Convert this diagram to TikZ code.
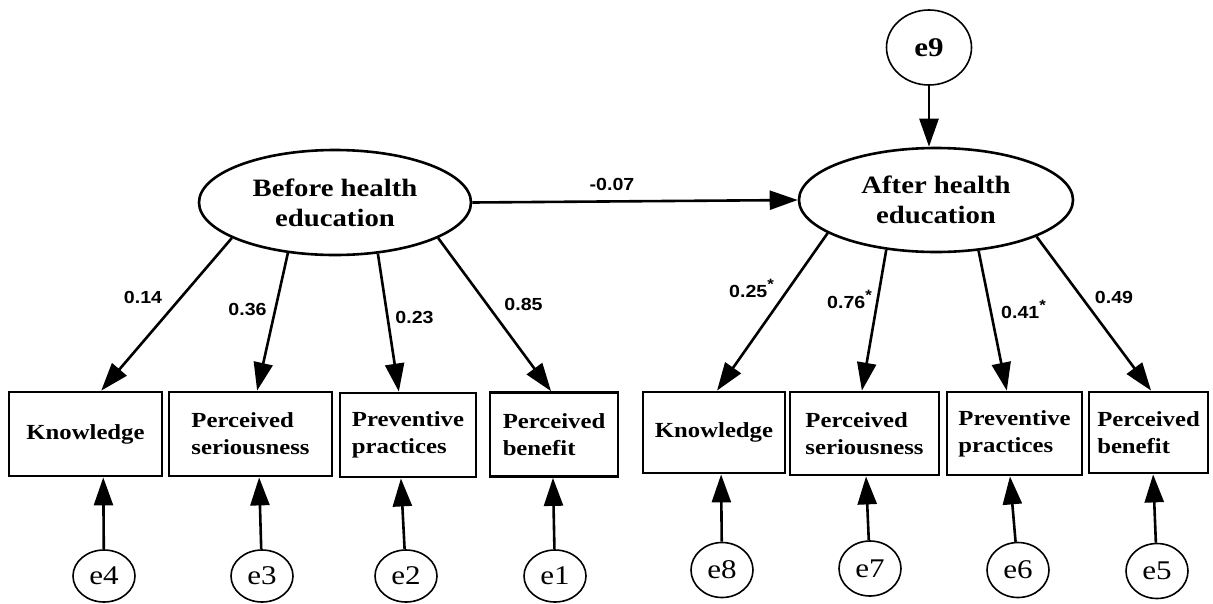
\documentclass[tikz,border=0pt]{standalone}
\usepackage{fontspec}
\setmainfont{Liberation Serif}[FakeStretch=1.15]
\newfontfamily\numfont{Liberation Sans}[FakeStretch=1.12]
\usetikzlibrary{arrows.meta,shapes.geometric,calc}
\newcommand{\sigstar}{\raisebox{0.42em}{\fontsize{15}{15}\selectfont *}}
\begin{document}
\begin{tikzpicture}[x=1pt,y=-1pt,
  lat/.style={ellipse,draw,line width=2.6pt,inner sep=0pt,font=\fontsize{25}{30}\selectfont\bfseries,align=center},
  obs/.style={rectangle,draw,line width=2.8pt,inner sep=0pt,font=\fontsize{21.5}{27}\selectfont\bfseries,align=left},
  err/.style={ellipse,draw,line width=1.6pt,inner sep=0pt,font=\fontsize{27}{30}\selectfont},
  arr/.style={line width=2.6pt,-{Triangle[length=28pt,width=19pt]}},
  coef/.style={font=\numfont\fontsize{17.5}{18}\selectfont\bfseries,anchor=base,inner sep=0pt},
]
\useasboundingbox (0,0) rectangle (1213,603);

% latent variables
\node[lat,minimum width=272pt,minimum height=105pt] (before) at (335,202.5) {Before health\\education};
\node[lat,minimum width=274pt,minimum height=104pt] (after) at (936,200) {After health\\education};
\node[err,font=\fontsize{27}{30}\selectfont\bfseries,minimum width=85pt,minimum height=75pt] (e9) at (929,47.5) {e9};

% observed variables (before)
\node[obs,minimum width=153pt,minimum height=84pt] (k1) at (85.5,434) {Knowledge};
\node[obs,minimum width=163pt,minimum height=84pt] (k2) at (250.5,434) {Perceived\\seriousness};
\node[obs,minimum width=136pt,minimum height=84pt] (k3) at (408,435) {Preventive\\practices};
\node[obs,minimum width=128pt,minimum height=84pt] (k4) at (554,434.5) {Perceived\\benefit};
% observed variables (after)
\node[obs,minimum width=142pt,minimum height=81pt] (k5) at (714,432.5) {Knowledge};
\node[obs,minimum width=149pt,minimum height=83pt] (k6) at (864.5,433.5) {Perceived\\seriousness};
\node[obs,minimum width=135pt,minimum height=83pt] (k7) at (1014.5,433.5) {Preventive\\practices};
\node[obs,minimum width=119pt,minimum height=81pt] (k8) at (1148.5,432.5) {Perceived\\benefit};

% error terms
\node[err,minimum width=62pt,minimum height=52pt] (e4) at (104,576) {e4};
\node[err,minimum width=62pt,minimum height=52pt] (e3) at (262,576) {e3};
\node[err,minimum width=62pt,minimum height=52pt] (e2) at (406,576) {e2};
\node[err,minimum width=62pt,minimum height=52pt] (e1) at (555,576) {e1};
\node[err,minimum width=62pt,minimum height=55pt] (e8) at (722,570) {e8};
\node[err,minimum width=62pt,minimum height=55pt] (e7) at (870,568.5) {e7};
\node[err,minimum width=62pt,minimum height=55pt] (e6) at (1018,570) {e6};
\node[err,minimum width=62pt,minimum height=55pt] (e5) at (1157,571) {e5};

% structural paths
\draw[arr] (e9) -- (e9 |- after.north);
\draw[arr] (before.east) -- (after.west);

% loadings (before)
\draw[arr] (before.199) -- ($(k1.north west)!0.601!(k1.north east)$);
\draw[arr] (before.227) -- ($(k2.north west)!0.540!(k2.north east)$);
\draw[arr] (before.310) -- ($(k3.north west)!0.434!(k3.north east)$);
\draw[arr] (before.341) -- ($(k4.north west)!0.477!(k4.north east)$);
% loadings (after)
\draw[arr] (after.197) -- ($(k5.north west)!0.521!(k5.north east)$);
\draw[arr] (after.225) -- ($(k6.north west)!0.483!(k6.north east)$);
\draw[arr] (after.310) -- ($(k7.north west)!0.444!(k7.north east)$);
\draw[arr] (after.340) -- ($(k8.north west)!0.521!(k8.north east)$);

% error paths
\draw[arr] (e4) -- ($(k1.south west)!0.614!(k1.south east)$);
\draw[arr] (e3) -- ($(k2.south west)!0.552!(k2.south east)$);
\draw[arr] (e2) -- ($(k3.south west)!0.449!(k3.south east)$);
\draw[arr] (e1) -- ($(k4.south west)!0.492!(k4.south east)$);
\draw[arr] (e8) -- ($(k5.south west)!0.549!(k5.south east)$);
\draw[arr] (e7) -- ($(k6.south west)!0.510!(k6.south east)$);
\draw[arr] (e6) -- ($(k7.south west)!0.467!(k7.south east)$);
\draw[arr] (e5) -- ($(k8.south west)!0.538!(k8.south east)$);

% coefficients
\node[coef] (c0) at (612,190) {-0.07};
\node[coef] (c1) at (143,303) {0.14};
\node[coef] (c2) at (247.5,315) {0.36};
\node[coef] (c3) at (414.5,323) {0.23};
\node[coef] (c4) at (523.5,310) {0.85};
\node[coef] (c5) at (751.5,297) {0.25\sigstar};
\node[coef] (c6) at (849.5,308) {0.76\sigstar};
\node[coef] (c7) at (1023.5,318) {0.41\sigstar};
\node[coef] (c8) at (1114,303) {0.49};
\end{tikzpicture}
\end{document}
